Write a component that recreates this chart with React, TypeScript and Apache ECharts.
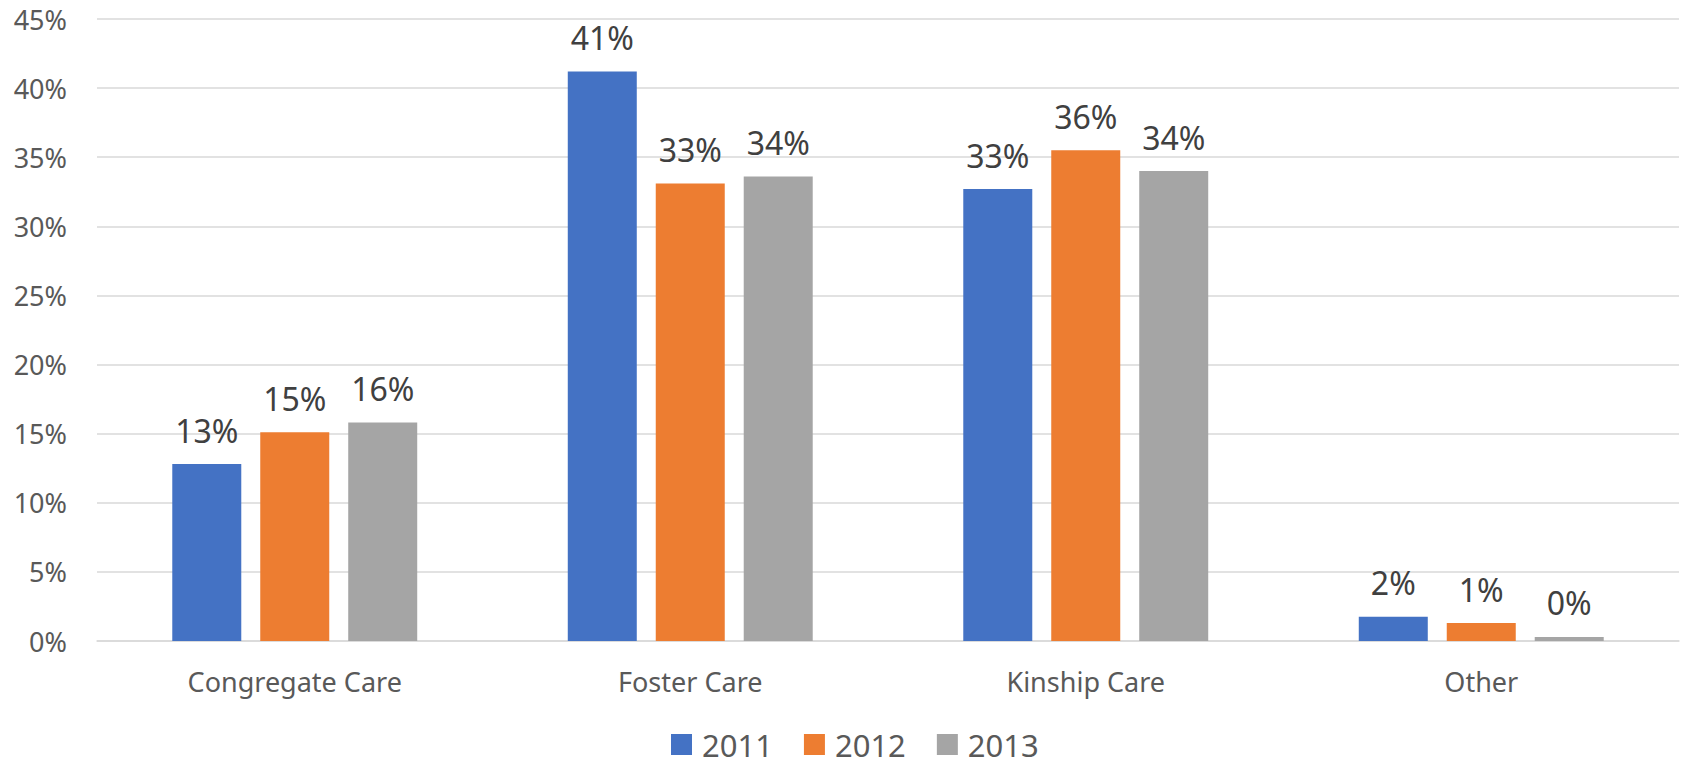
import React, { useEffect, useRef } from "react";
import * as echarts from "echarts";

const categories = ["Congregate Care", "Foster Care", "Kinship Care", "Other"];
const years = ["2011", "2012", "2013"];
const values2011 = [12.8, 41.2, 32.7, 1.75];
const values2012 = [15.1, 33.1, 35.5, 1.3];
const values2013 = [15.8, 33.6, 34.0, 0.29];
const colors = ["#4472C4", "#ED7D31", "#A5A5A5"];
const yTicks = { min: 0, max: 45, interval: 5 };

export default function App() {
  const ref = useRef<HTMLDivElement>(null);
  useEffect(() => {
    if (!ref.current) return;
    const chart = echarts.init(ref.current, null, { renderer: "svg" });
    const font = "'Noto Sans', 'Open Sans', sans-serif";
    const seriesData = [values2011, values2012, values2013];
    chart.setOption({
      animation: false,
      backgroundColor: "#ffffff",
      textStyle: { fontFamily: font },
      grid: { left: 97, right: 2, top: 19, bottom: 122, containLabel: false },
      legend: {
        data: years,
        left: 671,
        top: 729,
        padding: 0,
        itemWidth: 21,
        itemHeight: 21,
        itemGap: 31,
        icon: "rect",
        textStyle: { fontSize: 31, lineHeight: 30, color: "#595959", fontFamily: font, padding: [0, 0, 0, 5] },
      },
      xAxis: {
        type: "category",
        data: categories,
        axisLine: { show: true, lineStyle: { color: "#D9D9D9", width: 1.5 } },
        axisTick: { show: false },
        axisLabel: { fontSize: 27, color: "#595959", margin: 27, fontFamily: font },
      },
      yAxis: {
        type: "value",
        min: yTicks.min,
        max: yTicks.max,
        interval: yTicks.interval,
        axisLine: { show: false },
        axisTick: { show: false },
        splitLine: { lineStyle: { color: "#D9D9D9", width: 1.5 } },
        axisLabel: {
          fontSize: 27,
          color: "#595959",
          margin: 30,
          fontFamily: font,
          formatter: "{value}%",
        },
      },
      series: years.map((y, i) => ({
        name: y,
        type: "bar",
        data: seriesData[i],
        barWidth: 69,
        barGap: "27.5%",
        itemStyle: { color: colors[i] },
        label: {
          show: true,
          position: "top",
          distance: 18,
          fontSize: 32,
          color: "#404040",
          fontFamily: font,
          formatter: (p: any) => Math.round(p.value) + "%",
        },
      })),
    });
    return () => chart.dispose();
  }, []);
  return (
    <div
      ref={ref}
      style={{ position: "fixed", left: 0, top: 0, width: 1681, height: 763 }}
    />
  );
}
